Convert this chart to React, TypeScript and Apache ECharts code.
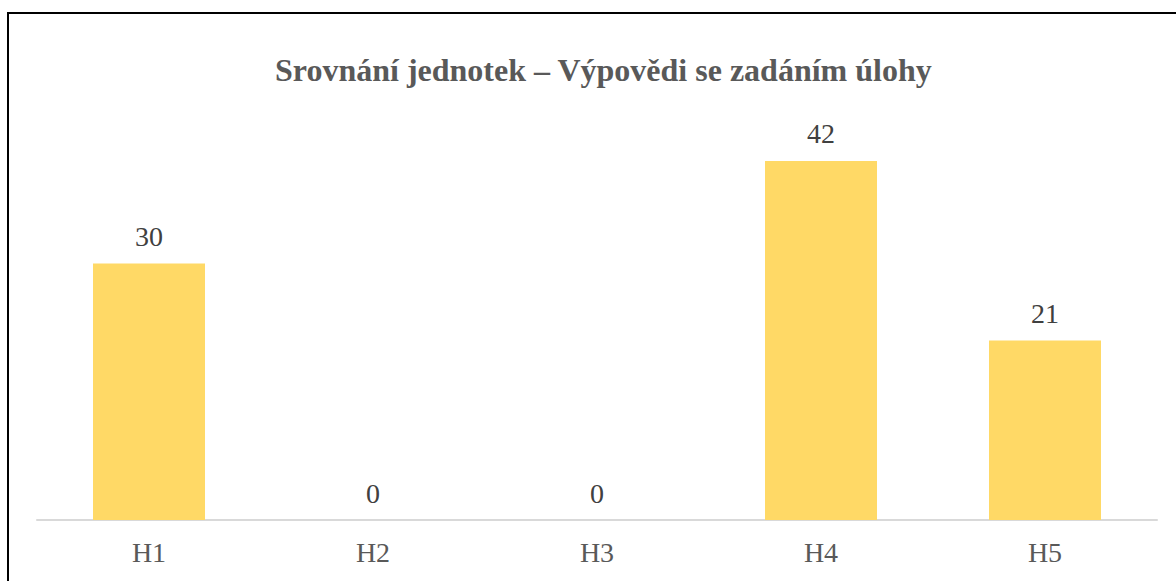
import React, { useEffect, useRef } from "react";
import * as echarts from "echarts";

const categories = ["H1", "H2", "H3", "H4", "H5"];
const values = [30, 0, 0, 42, 21];
const titleText = "Srovnání jednotek – Výpovědi se zadáním úlohy";

export default function App() {
  const ref = useRef<HTMLDivElement>(null);
  useEffect(() => {
    if (!ref.current) return;
    const chart = echarts.init(ref.current, undefined, { renderer: "svg" });
    const font = "'Liberation Serif', 'Times New Roman', serif";
    chart.setOption({
      animation: false,
      backgroundColor: "#ffffff",
      title: {
        text: titleText,
        left: 270,
        top: 49,
        textStyle: { fontFamily: font, fontSize: 32, fontWeight: "bold", color: "#595959" },
      },
      grid: { left: 37, right: 19, top: 92.5, bottom: 61, containLabel: false },
      xAxis: {
        type: "category",
        data: categories,
        axisLine: { lineStyle: { color: "#d9d9d9", width: 2 } },
        axisTick: { show: false },
        axisLabel: { fontFamily: font, fontSize: 28, color: "#595959", margin: 18 },
      },
      yAxis: {
        type: "value",
        min: 0,
        max: 50,
        show: false,
        splitLine: { show: false },
      },
      series: [
        {
          type: "bar",
          data: values,
          barCategoryGap: "50%",
          itemStyle: { color: "#FFD966" },
          label: {
            show: true,
            position: "top",
            distance: 13,
            fontFamily: font,
            fontSize: 28,
            color: "#404040",
          },
        },
      ],
      graphic: [
        {
          type: "polyline",
          shape: { points: [[8, 581], [8, 13], [1176, 13]] },
          style: { stroke: "#000000", lineWidth: 2, fill: null },
        },
      ],
    });
    return () => chart.dispose();
  }, []);
  return (
    <div
      ref={ref}
      style={{ position: "absolute", left: 0, top: 0, width: 1176, height: 581 }}
    />
  );
}
